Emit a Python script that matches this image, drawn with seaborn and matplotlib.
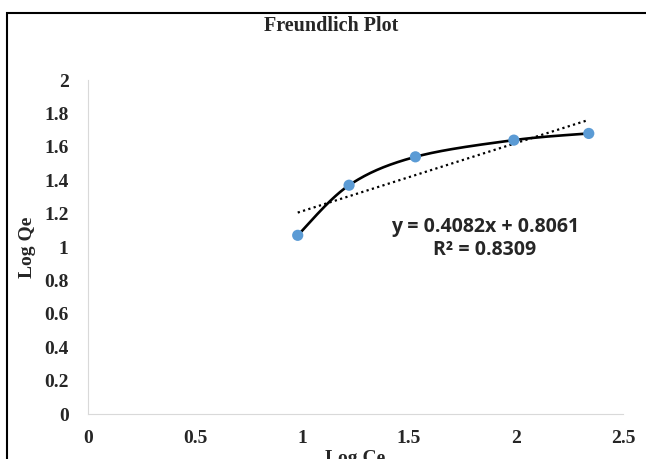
import matplotlib
matplotlib.use('Agg')
import matplotlib.pyplot as plt
import seaborn as sns
import numpy as np
import pandas as pd
from matplotlib.patches import Rectangle

# ── Datos ─────────────────────────────────────────────
log_ce = [0.98, 1.22, 1.53, 1.99, 2.34]
log_qe = [1.07, 1.37, 1.54, 1.64, 1.68]
pendiente = 0.4082
intercepto = 0.8061
r2 = 0.8309
x_ticks = [0, 0.5, 1, 1.5, 2, 2.5]
y_ticks = [0, 0.2, 0.4, 0.6, 0.8, 1, 1.2, 1.4, 1.6, 1.8, 2]

df = pd.DataFrame({"Log Ce": log_ce, "Log Qe": log_qe})


def suavizar(x, y, n=40):
    # curva suavizada estilo Excel (Catmull-Rom)
    x = np.asarray(x, float)
    y = np.asarray(y, float)
    px = np.concatenate([[x[0]], x, [x[-1]]])
    py = np.concatenate([[y[0]], y, [y[-1]]])
    xs, ys = [], []
    for i in range(1, len(px) - 2):
        t = np.linspace(0, 1, n)
        p0, p1, p2, p3 = [np.array([px[j], py[j]]) for j in (i - 1, i, i + 1, i + 2)]
        c1 = p1 + (p2 - p0) / 6
        c2 = p2 - (p3 - p1) / 6
        b = ((1 - t) ** 3)[:, None] * p1 + (3 * (1 - t) ** 2 * t)[:, None] * c1 \
            + (3 * (1 - t) * t ** 2)[:, None] * c2 + (t ** 3)[:, None] * p2
        xs.extend(b[:, 0])
        ys.extend(b[:, 1])
    return np.array(xs), np.array(ys)


sns.set_style("white")
plt.rcParams['font.family'] = ['Liberation Serif', 'DejaVu Serif']

fig = plt.figure(figsize=(6.46, 4.59), dpi=100)
ax = fig.add_axes([0.1362, 0.098, 0.8282, 0.7277])

# curva suavizada
cx, cy = suavizar(log_ce, log_qe)
ax.plot(cx, cy, color='black', linewidth=1.9, zorder=2)

# linea de tendencia
tx = np.array([min(log_ce), max(log_ce)])
ax.plot(tx, pendiente * tx + intercepto, color='black', linestyle=(0, (1, 1.5)),
        linewidth=1.6, zorder=1)

sns.scatterplot(data=df, x="Log Ce", y="Log Qe", ax=ax, color='#5B9BD5',
                s=65, edgecolor='none', zorder=3)

ax.set_xlim(0, 2.5)
ax.set_ylim(0, 2)
ax.set_xticks(x_ticks)
ax.set_xticklabels([f"{v:g}" for v in x_ticks])
ax.set_yticks(y_ticks)
ax.set_yticklabels([f"{v:g}" for v in y_ticks])
ax.tick_params(length=0, labelsize=14)
ax.tick_params(axis='x', pad=11.5)
ax.tick_params(axis='y', pad=14)
for lbl in ax.get_xticklabels() + ax.get_yticklabels():
    lbl.set_fontweight('bold')

for s in ['top', 'right']:
    ax.spines[s].set_visible(False)
for s in ['left', 'bottom']:
    ax.spines[s].set_color('#d9d9d9')
    ax.spines[s].set_linewidth(0.8)

ax.set_xlabel("Log Ce", fontsize=14, fontweight='bold', labelpad=2)
ax.set_ylabel("Log Qe", fontsize=14, fontweight='bold', labelpad=6)

fig.text(0.512, 0.944, "Freundlich Plot", ha='center', va='center',
         fontsize=14.5, fontweight='bold')

ax.text(0.742, 0.525, f"y = {pendiente}x + {intercepto}\nR² = {r2}",
        transform=ax.transAxes, ha='center', va='center', fontsize=14,
        fontweight='bold', family=['Open Sans', 'DejaVu Sans'], linespacing=1.2)

# marco del grafico
fig.patches.append(Rectangle((7 / 646, -0.1), 1.2, 1 - 13 / 459 + 0.1,
                             transform=fig.transFigure, fill=False,
                             edgecolor='black', linewidth=1.5))

plt.savefig("out.png", dpi=100)
plt.close()
